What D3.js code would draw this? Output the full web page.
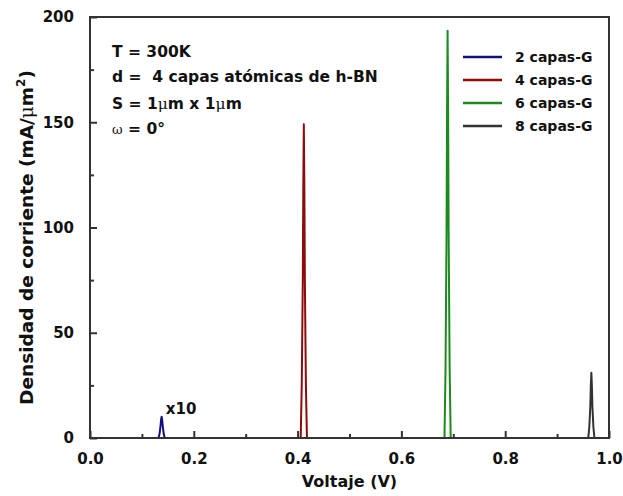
<!DOCTYPE html>
<html>
<head>
<meta charset="utf-8">
<script src="https://cdn.jsdelivr.net/npm/d3@7"></script>
<style>
  body { margin: 0; background: #fff; }
  svg { display: block; font-family: "DejaVu Sans", sans-serif; font-weight: bold; }
</style>
</head>
<body>
<svg id="chart" width="623" height="496"></svg>
<script>
// curvas J-V por número de capas de grafeno (picos de resonancia)
const series = ['2 capas-G', '4 capas-G', '6 capas-G', '8 capas-G'];
const colores = ['#10107e', '#8a0c0c', '#1c8a1c', '#333333'];

const volt2 = [0, 0.132, 0.134, 0.136, 0.137, 0.138, 0.139, 0.140, 0.142, 0.144, 1.0];
const corr2 = [0, 0, 2.0, 6.0, 8.8, 10.1, 8.8, 6.0, 2.0, 0, 0]; // ya multiplicada x10

const volt4 = [0, 0.406, 0.408, 0.410, 0.411, 0.412, 0.413, 0.414, 0.416, 0.418, 1.0];
const corr4 = [0, 0, 25, 75, 120, 149, 120, 75, 25, 0, 0];

const volt6 = [0, 0.683, 0.685, 0.687, 0.688, 0.689, 0.690, 0.691, 0.693, 0.695, 1.0];
const corr6 = [0, 0, 32, 98, 156, 193.5, 156, 98, 32, 0, 0];

const volt8 = [0, 0.960, 0.962, 0.964, 0.965, 0.966, 0.967, 0.968, 0.970, 0.972, 1.0];
const corr8 = [0, 0, 5, 15, 25, 31, 25, 15, 5, 0, 0];

const xTicks = [0, 0.2, 0.4, 0.6, 0.8, 1.0];
const xMinor = [0.1, 0.3, 0.5, 0.7, 0.9];
const yTicks = [0, 50, 100, 150, 200];
const yMinor = [25, 75, 125, 175];

const datos = [[volt2, corr2], [volt4, corr4], [volt6, corr6], [volt8, corr8]];

const svg = d3.select('#chart');
const m = { left: 90, right: 609, top: 17, bottom: 438 };

const x = d3.scaleLinear().domain([0, 1.0]).range([m.left, m.right]);
const y = d3.scaleLinear().domain([0, 200]).range([m.bottom, m.top]);

// curvas
const linea = d3.line().x((d) => x(d[0])).y((d) => y(d[1]));
datos.forEach(([vs, js], i) => {
  svg.append('path')
    .datum(vs.map((v, k) => [v, js[k]]))
    .attr('d', linea)
    .attr('fill', 'none')
    .attr('stroke', colores[i])
    .attr('stroke-width', 2)
    .attr('stroke-linejoin', 'round');
});

// marco
svg.append('rect')
  .attr('x', m.left).attr('y', m.top)
  .attr('width', m.right - m.left).attr('height', m.bottom - m.top)
  .attr('fill', 'none').attr('stroke', '#333').attr('stroke-width', 2);

// ejes con ticks hacia adentro
svg.append('g').attr('transform', `translate(0,${m.bottom})`)
  .call(d3.axisBottom(x).tickValues(xTicks).tickSizeInner(-7).tickSizeOuter(0)
    .tickPadding(15).tickFormat(d3.format('.1f')));
svg.append('g').attr('transform', `translate(0,${m.bottom})`)
  .call(d3.axisBottom(x).tickValues(xMinor).tickSizeInner(-4).tickSizeOuter(0).tickFormat(''));
svg.append('g').attr('transform', `translate(${m.left},0)`)
  .call(d3.axisLeft(y).tickValues(yTicks).tickSizeInner(-7).tickSizeOuter(0).tickPadding(16));
svg.append('g').attr('transform', `translate(${m.left},0)`)
  .call(d3.axisLeft(y).tickValues(yMinor).tickSizeInner(-4).tickSizeOuter(0).tickFormat(''));

svg.selectAll('.domain').remove();
svg.selectAll('.tick line').attr('stroke', '#333').attr('stroke-width', 2);
svg.selectAll('.tick text')
  .attr('fill', '#111').style('font-size', '15px')
  .style('font-family', '"DejaVu Sans", sans-serif').style('font-weight', 'bold');

// títulos de ejes
svg.append('text')
  .attr('x', (m.left + m.right) / 2).attr('y', 487)
  .attr('text-anchor', 'middle').style('font-size', '16px').attr('fill', '#111')
  .text('Voltaje (V)');

const ty = svg.append('text')
  .attr('transform', `translate(33,${(m.top + m.bottom) / 2 + 10}) rotate(-90)`)
  .attr('text-anchor', 'middle').style('font-size', '18.5px').attr('fill', '#111');
ty.append('tspan').text('Densidad de corriente (mA/');
ty.append('tspan').style('font-family', '"DejaVu Serif", serif').style('font-weight', 'normal').text('μ');
ty.append('tspan').text('m');
ty.append('tspan').attr('dy', -8).style('font-size', '12px').text('2');
ty.append('tspan').attr('dy', 8).text(')');

// anotaciones de parámetros
const notas = svg.append('g').style('font-size', '15.5px').attr('fill', '#111');
notas.append('text').attr('x', 112).attr('y', 57).text('T = 300K');
notas.append('text').attr('x', 112).attr('y', 82).attr('xml:space', 'preserve')
  .text('d =  4 capas atómicas de h-BN');
const tS = notas.append('text').attr('x', 112).attr('y', 109);
tS.append('tspan').text('S = 1');
tS.append('tspan').style('font-family', '"DejaVu Serif", serif').style('font-weight', 'normal').text('μ');
tS.append('tspan').text('m x 1');
tS.append('tspan').style('font-family', '"DejaVu Serif", serif').style('font-weight', 'normal').text('μ');
tS.append('tspan').text('m');
const tW = notas.append('text').attr('x', 112).attr('y', 134);
tW.append('tspan').style('font-family', '"DejaVu Serif", serif').style('font-weight', 'normal')
  .style('font-size', '13px').text('ω');
tW.append('tspan').text(' = 0°');

svg.append('text')
  .attr('x', x(0.146)).attr('y', 414)
  .style('font-size', '15px').attr('fill', '#111')
  .text('x10');

// leyenda
const ley = svg.append('g');
series.forEach((s, i) => {
  const yy = 57 + i * 23;
  ley.append('line')
    .attr('x1', 463).attr('x2', 502).attr('y1', yy).attr('y2', yy)
    .attr('stroke', colores[i]).attr('stroke-width', 2.5);
  ley.append('text')
    .attr('x', 515).attr('y', yy + 5)
    .style('font-size', '14px').attr('fill', '#111')
    .text(s);
});
</script>
</body>
</html>
